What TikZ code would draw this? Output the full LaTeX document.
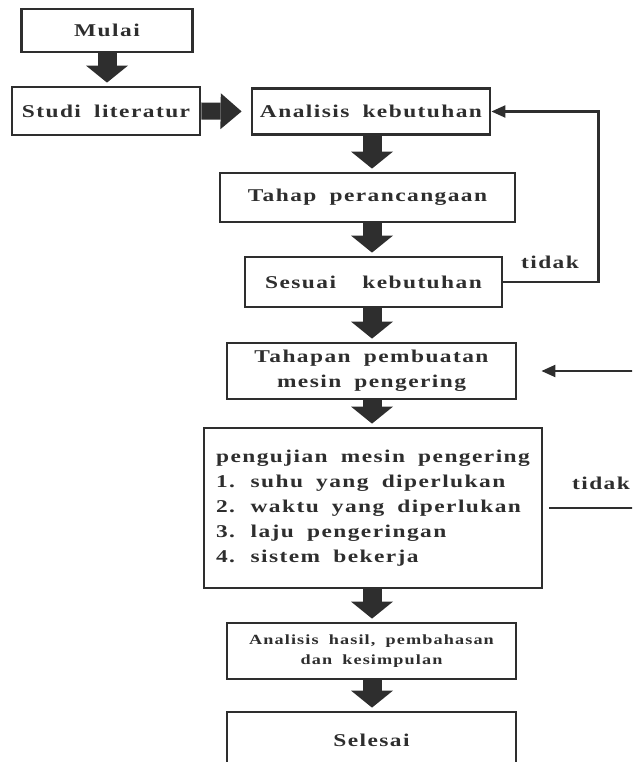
\documentclass[tikz,border=0pt]{standalone}
\usepackage{fontspec}
\setmainfont{Liberation Serif}
\newfontfamily\flowfam{Liberation Serif}[FakeStretch=1.3, LetterSpace=8, WordSpace=1.8]
\usetikzlibrary{arrows.meta, positioning, calc}
\definecolor{ink}{HTML}{2E2E2E}
\newcommand{\flowfont}{\flowfam\fontsize{18}{25}\selectfont\bfseries}
\newcommand{\smallflowfont}{\flowfam\fontsize{14}{20}\selectfont\bfseries}

\begin{document}
\begin{tikzpicture}[
  x=1pt, y=-1pt,
  box/.style={rectangle, draw=ink, line width=2.8pt, align=center, text=ink,
    inner sep=0pt, font=\flowfont},
  fat/.style={draw=ink, line width=19pt, -{Triangle[length=17pt, width=42pt, line width=0pt]},
    shorten >=3pt},
  fatside/.style={draw=ink, line width=17pt, -{Triangle[length=21pt, width=36pt, line width=0pt]},
    shorten >=9pt},
  back/.style={draw=ink, line width=2.2pt, -{Triangle[length=14pt, width=12pt]}},
  lbl/.style={text=ink, font=\flowfont, inner sep=0pt}
]
\useasboundingbox (0,0) rectangle (632,762);
\clip (0,0) rectangle (632,762);

\node[box, minimum width=171pt, minimum height=43pt] (mulai) at (107,30.5) {Mulai};
\node[box, minimum width=188pt, minimum height=48pt] (studi) at (106,111) {Studi literatur};
\node[box, minimum width=238pt, minimum height=46pt] (analisis) at (371,111.5) {Analisis kebutuhan};
\node[box, minimum width=295pt, minimum height=49pt] (rancang) at (367.5,197.5) {Tahap perancangaan};
\node[box, minimum width=257pt, minimum height=50pt] (sesuai) at (373.5,282) {Sesuai\ \ kebutuhan};
\node[box, minimum width=289pt, minimum height=56pt] (buat) at (371.5,371) {Tahapan pembuatan\\mesin pengering};
\node[box, align=left, minimum width=338pt, minimum height=160pt] (uji) at (373,508)
  {pengujian mesin pengering\\1. suhu yang diperlukan\\2. waktu yang diperlukan\\3. laju pengeringan\\4. sistem bekerja};
\node[box, font=\smallflowfont, minimum width=289pt, minimum height=56pt] (hasil) at (371.5,651)
  {Analisis hasil, pembahasan\\dan kesimpulan};
\node[box, minimum width=289pt, minimum height=56pt] (selesai) at (371.5,740) {Selesai};

\node[lbl] (tidak1) at (550,262) {tidak};
\node[lbl] (tidak2) at (601,483) {tidak};

% main flow
\coordinate (col) at (372,0);
\coordinate (edge) at (660,0);
\draw[fat] (mulai.south) -- (mulai.south |- studi.north);
\draw[fatside] (studi.east) -- (analisis.west);
\draw[fat] (analisis.south -| col) -- (rancang.north -| col);
\draw[fat] (rancang.south -| col) -- (sesuai.north -| col);
\draw[fat] (sesuai.south -| col) -- (buat.north -| col);
\draw[fat] (buat.south -| col) -- (uji.north -| col);
\draw[fat] (uji.south -| col) -- (hasil.north -| col);
\draw[fat] (hasil.south -| col) -- (selesai.north -| col);

% loops back
\draw[back] (sesuai.east) -- ++(95,0) |- (analisis.east);
\draw[back, shorten <=6pt, shorten >=24pt] (uji.east) -- (uji.east -| edge) |- (buat.east);
\end{tikzpicture}
\end{document}
